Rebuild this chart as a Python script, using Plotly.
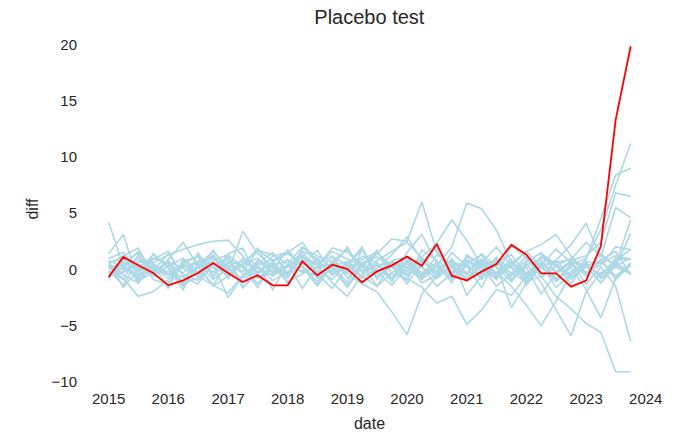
import pandas as pd
import plotly.graph_objects as go

dates = pd.date_range("2015-01-01", periods=36, freq="QS")

treated = [-0.68, 1.1, 0.36, -0.32, -1.42, -0.98, -0.32, 0.57, -0.32, -1.12, -0.53, -1.42,
           -1.42, 0.71, -0.53, 0.42, 0.03, -1.15, -0.18, 0.36, 1.13, 0.33, 2.26, -0.56,
           -0.98, -0.2, 0.48, 2.2, 1.31, -0.35, -0.35, -1.54, -1.0, 2.05, 13.3, 19.84]

placebo_1 = [4.2, 0.3, -0.5, 0.2, -0.8, 0.5, 1.2, 0.3, -0.6, 0.4, 1.0, -0.3, 0.2, 1.1, 0.5, -0.2, 0.6, -0.8, 0.1, 1.3, 2.9, 0.8, -0.4, 0.9, -0.5, 1.4, 0.2, -1.1, 0.6, 1.5, -0.3, 0.8, 1.2, 2.4, 6.8, 6.5]
placebo_2 = [1.4, 3.1, -1.0, -0.3, 0.6, -1.5, 0.4, 1.6, 0.2, -1.2, 0.5, 1.5, -0.4, 0.3, -1.1, 0.7, 1.8, 0.2, -0.6, 0.4, -1.3, 0.6, 1.9, -0.8, 0.3, -1.6, 0.9, 0.1, -0.9, 1.2, 0.4, -1.3, 0.7, 0.5, 1.2, 0.9]
placebo_3 = [0.5, 1.2, 1.9, -0.5, -1.2, 0.4, -0.3, 1.1, -0.8, 0.6, 1.7, 0.8, 1.6, 0.2, -1.4, 0.8, -0.3, 1.2, 0.6, -0.9, 1.5, 3.1, 0.5, -1.2, 1.3, 0.3, -0.6, 2.1, 1.0, -0.7, 0.8, 2.2, 4.1, 1.1, 5.5, 4.6]
placebo_4 = [0.2, -0.8, -2.4, -2.0, -0.9, 0.5, -0.6, -1.4, -2.1, -0.5, 0.3, -1.0, -0.2, 0.8, -0.4, -1.7, 0.2, -0.6, -1.5, -0.3, 0.6, -1.2, -0.5, 0.9, -2.3, -0.6, 0.4, -3.4, -1.2, 0.5, -1.6, -0.4, 0.3, -1.2, 0.8, 1.75]
placebo_5 = [-0.4, 0.6, 0.1, -0.5, 0.9, 2.4, 0.3, -1.5, -0.6, 1.0, 0.4, -1.8, 0.5, 2.0, 0.8, -0.5, 0.3, 1.8, -0.2, 0.7, 0.1, -0.8, 1.3, 0.4, -0.9, 0.6, 2.0, 0.3, -1.1, 0.4, 1.8, 0.6, -0.6, 1.4, 0.2, 3.2]
placebo_6 = [0.8, 0.2, 1.0, 0.6, 1.3, 1.8, 2.2, 2.5, 2.6, 1.2, -0.4, 0.7, 1.4, 0.5, -0.2, 1.1, 0.4, -0.6, 0.8, 1.6, 2.4, 1.0, 0.2, -0.5, 1.1, 0.6, -0.8, 0.5, 1.6, 0.2, -0.9, 0.4, 1.0, 3.5, 7.5, 11.2]
placebo_7 = [-0.6, -0.2, 0.7, 0.3, -0.4, -1.1, 0.2, 1.3, -0.3, 3.4, 1.4, 0.2, -0.8, 1.9, 1.2, 0.6, -0.3, 0.9, 1.5, 0.3, -1.0, 1.7, 0.8, -0.2, 0.5, 1.3, -0.4, 0.7, -0.6, 1.1, 0.3, -0.5, 0.9, 4.5, 8.4, 9.0]
placebo_8 = [0.3, -0.5, -1.2, 0.4, -0.2, -0.7, -1.3, 0.5, -2.5, -0.6, 0.8, 0.2, -1.1, -0.4, 0.6, 1.2, -0.8, 0.4, -0.3, -1.4, 0.2, 0.9, -0.7, 1.5, 0.3, -0.5, 1.1, -0.9, 0.2, -2.2, -0.4, 0.6, -1.3, 0.2, -1.5, -6.4]
placebo_9 = [-0.9, 1.2, -1.3, 1.4, 0.2, -1.4, 1.5, -0.7, 1.2, -1.6, -0.4, 1.2, 1.5, 2.4, 0.4, -1.2, -2.4, -0.5, 1.5, 0.2, -0.6, 0.3, -1.5, -0.4, 0.8, -0.2, 0.6, 1.3, -0.5, 0.7, -0.8, -0.2, 0.5, -0.6, 1.0, 0.86]
placebo_10 = [0.6, 0.9, 0.2, -0.6, 0.3, 1.0, -0.2, 0.4, 0.9, 0.2, -0.7, 0.3, 0.8, -0.3, 0.2, 0.5, -0.4, -1.3, -2.0, -3.8, -5.8, -2.2, -0.6, 0.4, -0.8, 0.6, -0.3, 0.9, -1.4, 0.3, 0.8, -0.7, 0.2, -0.4, 0.6, -0.3]
placebo_11 = [0.1, -0.3, 0.5, -0.2, 0.7, 0.1, -0.5, 0.6, 0.3, 0.8, -0.2, 0.5, -0.4, 0.9, 0.4, 1.6, 0.9, 0.3, 1.4, 2.7, 2.5, 6.0, 1.5, 0.2, -1.0, 0.4, 0.8, -0.4, 1.2, -0.7, 0.3, 1.0, -0.4, 0.9, -0.9, 0.4]
placebo_12 = [-0.3, 0.1, -0.7, 0.5, -0.4, 0.3, 0.6, -0.9, 0.1, 0.5, 0.2, -0.6, 0.3, -0.2, 0.9, -0.5, 0.2, 0.6, -0.3, 0.8, 1.1, -0.4, 0.3, 2.0, 5.9, 5.4, 3.5, 0.6, -0.8, 0.5, -0.2, 0.7, 0.4, -1.2, 0.3, 1.0]
placebo_13 = [1.0, 1.5, -0.2, 0.9, 1.6, -0.6, 0.2, -1.4, 0.6, -0.2, 1.7, 1.3, 0.5, -1.7, 0.3, 1.9, 1.5, 0.4, -1.5, 0.6, -0.2, 1.1, 2.3, 4.4, 2.6, 0.3, -1.5, -0.4, 0.8, 1.4, 0.5, -0.9, 0.3, 0.8, 1.6, -0.5]
placebo_14 = [-0.2, -0.9, 1.3, -0.4, 0.8, -1.2, -0.8, 1.2, -0.5, 0.4, -1.3, 0.6, -0.5, 1.3, -0.8, 0.1, -1.6, 0.3, 1.7, -0.4, -0.8, -1.6, -3.0, -2.4, -4.9, -3.6, -1.8, -2.3, -0.6, 0.2, -1.0, 0.4, -0.3, 0.7, -0.6, 0.5]
placebo_15 = [0.4, 0.0, -0.4, 1.0, 0.5, -0.3, 0.8, 0.1, -0.2, -0.8, 0.6, -0.2, 0.4, -0.1, -0.6, 0.3, 0.7, -0.2, 0.4, -0.7, 0.5, -0.3, 0.6, -0.9, 0.4, -0.7, -0.2, -1.5, -3.2, -5.0, -2.8, -0.4, 0.6, -0.8, 0.4, 4.4]
placebo_16 = [-0.7, 0.8, 1.4, -0.9, -1.3, 0.7, 1.1, -0.6, 1.4, 1.9, -0.8, 0.0, 1.7, 0.3, -1.5, 0.4, -1.2, 1.8, -0.9, 0.5, 0.2, -0.5, 0.0, 0.6, -0.3, 0.8, 0.2, -0.6, 0.5, -1.2, -3.6, -5.9, -2.0, -0.3, 0.2, -0.4]
placebo_17 = [0.2, 0.4, -0.9, 0.1, -0.5, 0.2, 0.5, -0.2, 0.7, -0.4, 0.1, -0.5, 0.9, -0.3, 0.2, -0.9, 0.5, -0.1, 0.3, 0.6, -0.4, 0.2, -0.8, 0.3, 0.6, -0.9, 0.5, -0.3, -1.1, -0.6, -2.4, -3.5, -4.8, -5.6, -9.1, -9.1]
placebo_18 = [-0.1, -1.4, 0.8, 0.5, -1.7, 0.9, -0.4, 1.7, -0.1, 0.3, 1.9, -0.4, 0.2, 1.6, -0.3, 0.2, 2.0, -0.3, 0.5, -1.1, 0.9, -0.6, 0.4, 0.1, -0.4, 0.9, -0.5, 0.3, 1.6, 2.2, 3.1, 1.2, -0.3, 0.4, 2.0, 1.75]
placebo_19 = [0.7, -1.6, 0.0, 1.3, 0.1, -1.8, 0.6, -0.3, 1.2, -1.7, 0.4, 0.9, -1.3, 0.5, 1.7, -0.4, 0.4, 2.0, -0.7, 0.3, -0.5, 0.8, -0.2, 0.7, 0.2, -0.4, 0.7, -0.9, 0.4, 0.9, -1.1, 0.2, -1.8, -4.3, -0.8, 0.6]
placebo_20 = [-0.5, 0.2, 1.6, -0.1, 1.4, -0.5, -1.0, 0.8, 1.3, 0.2, -1.6, 0.4, -0.7, 1.6, 1.0, 0.2, -1.5, 0.6, 1.1, 0.2, 0.7, -0.9, 0.3, -0.6, 0.9, 0.1, -0.9, 0.6, -0.3, 0.3, 0.6, 0.9, 2.4, 1.2, 0.4, -0.3]

placebos = [placebo_1, placebo_2, placebo_3, placebo_4, placebo_5, placebo_6, placebo_7,
            placebo_8, placebo_9, placebo_10, placebo_11, placebo_12, placebo_13, placebo_14,
            placebo_15, placebo_16, placebo_17, placebo_18, placebo_19, placebo_20]

x_ticks = [f"{y}-01-01" for y in range(2015, 2025)]
x_tick_labels = [str(y) for y in range(2015, 2025)]
y_ticks = [-10, -5, 0, 5, 10, 15, 20]
y_tick_labels = ["\u221210", "\u22125", "0", "5", "10", "15", "20"]

fig = go.Figure()
for s in placebos:
    fig.add_trace(go.Scatter(x=dates, y=s, mode="lines",
                             line=dict(color="#ADD8E6", width=1.6),
                             showlegend=False, hoverinfo="skip"))
fig.add_trace(go.Scatter(x=dates, y=treated, mode="lines",
                         line=dict(color="#FF0000", width=1.8),
                         showlegend=False))

font_family = "Liberation Sans, Arial, sans-serif"
fig.update_layout(
    width=679, height=442,
    margin=dict(l=82, r=22, t=30, b=54, autoexpand=False),
    paper_bgcolor="white", plot_bgcolor="white",
    font=dict(family=font_family, size=15, color="#262626"),
    title=dict(text="Placebo test", x=0.544, xanchor="center", y=0.962, yanchor="middle",
               font=dict(size=20, color="#262626")),
)
fig.update_xaxes(
    type="date", range=["2014-07-22", "2024-03-10"],
    tickvals=x_ticks, ticktext=x_tick_labels,
    showgrid=False, zeroline=False, showline=False, automargin=False,
    ticks="",
    title=dict(text="date", font=dict(size=16), standoff=11),
)
fig.update_yaxes(
    range=[-10.55, 21.29],
    tickvals=y_ticks, ticktext=y_tick_labels,
    showgrid=False, zeroline=False, showline=False, automargin=False,
    ticks="outside", ticklen=1, tickcolor="white",
    title=dict(text="diff", font=dict(size=16), standoff=8),
)

fig.write_html("out.html", config={"displayModeBar": False},
               post_script="document.body.style.margin='0';document.body.style.overflow='hidden';")
